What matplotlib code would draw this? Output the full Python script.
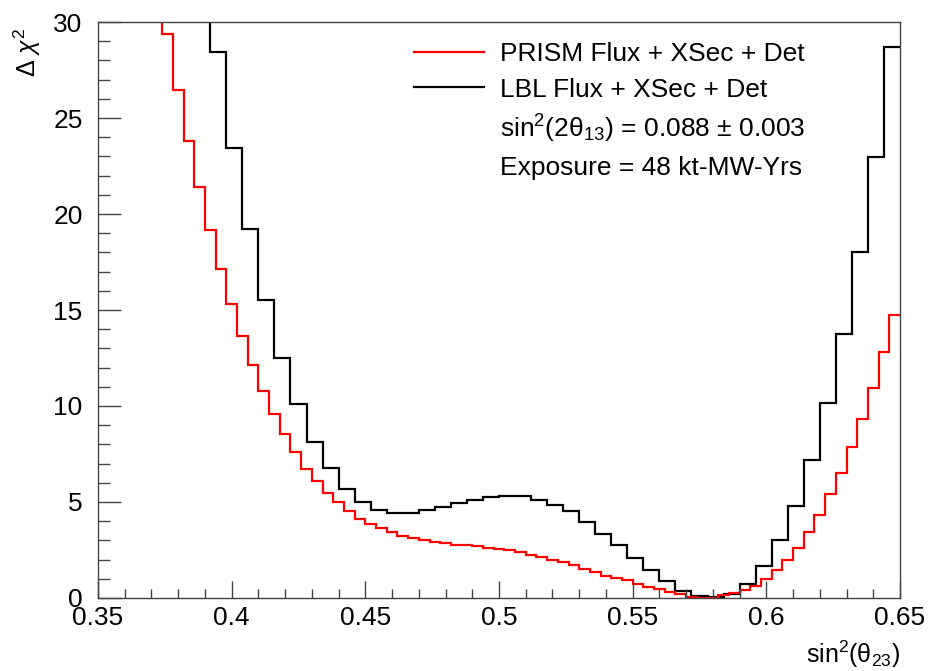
import numpy as np
import matplotlib
matplotlib.use("Agg")
import matplotlib.pyplot as plt
from matplotlib.lines import Line2D

# Delta chi^2 scan in sin^2(theta_23), binned histograms (ROOT style)

x_min, x_max = 0.35, 0.65
n_bins_lbl = 50
n_bins_prism = 75

# LBL Flux + XSec + Det (black), 50 bins of 0.006
lbl_chi2 = [
    58.0, 51.0, 45.0, 40.0, 36.0, 33.0, 31.5, 28.45, 23.45, 19.2,
    15.5, 12.5, 10.1, 8.15, 6.75, 5.7, 5.0, 4.6, 4.42, 4.42,
    4.56, 4.74, 4.94, 5.12, 5.26, 5.33, 5.33, 5.12, 4.86, 4.51,
    3.94, 3.33, 2.77, 2.08, 1.45, 0.86, 0.35, 0.08, 0.03, 0.21,
    0.71, 1.66, 3.0, 4.77, 7.2, 10.15, 13.76, 18.01, 22.99, 28.68,
]

# PRISM Flux + XSec + Det (red), 75 bins of 0.004
prism_chi2 = [
    52.0, 46.0, 41.0, 37.0, 34.0, 31.5, 29.36, 26.46, 23.82, 21.4,
    19.17, 17.13, 15.3, 13.62, 12.11, 10.79, 9.58, 8.54, 7.6, 6.73,
    6.11, 5.47, 5.0, 4.54, 4.13, 3.87, 3.62, 3.42, 3.24, 3.12,
    3.0, 2.91, 2.84, 2.78, 2.74, 2.69, 2.62, 2.55, 2.48, 2.37,
    2.25, 2.11, 1.99, 1.85, 1.70, 1.51, 1.33, 1.16, 1.04, 0.92,
    0.74, 0.59, 0.45, 0.29, 0.19, 0.05, 0.0, 0.01, 0.13, 0.26,
    0.43, 0.65, 0.99, 1.47, 1.99, 2.63, 3.43, 4.34, 5.41, 6.51,
    7.89, 9.33, 10.93, 12.8, 14.75,
]

legend_labels = [
    "PRISM Flux + XSec + Det",
    "LBL Flux + XSec + Det",
    "sin$^{2}$(2θ$_{13}$) = 0.088 $\\pm$ 0.003",
    "Exposure = 48 kt-MW-Yrs",
]

plt.rcParams["font.family"] = ["Liberation Sans", "DejaVu Sans"]
plt.rcParams["mathtext.fontset"] = "custom"
plt.rcParams["mathtext.rm"] = "Liberation Sans"
plt.rcParams["mathtext.it"] = "Liberation Sans:italic"
plt.rcParams["mathtext.sf"] = "Liberation Sans"

fig = plt.figure(figsize=(9.29, 6.71), dpi=100)
ax = fig.add_axes([0.1055, 0.1088, 0.8633, 0.8584])

edges_lbl = np.linspace(x_min, x_max, n_bins_lbl + 1)
edges_prism = np.linspace(x_min, x_max, n_bins_prism + 1)

ax.stairs(lbl_chi2, edges_lbl, baseline=None, color="black", lw=1.6)
ax.stairs(prism_chi2, edges_prism, baseline=None, color="red", lw=1.6)

ax.set_xlim(x_min, x_max)
ax.set_ylim(0, 30)

ax.set_xticks(np.arange(0.35, 0.651, 0.05))
ax.set_xticks(np.arange(0.35, 0.651, 0.01), minor=True)
ax.set_yticks(np.arange(0, 31, 5))
ax.set_yticks(np.arange(0, 31, 1), minor=True)
ax.set_xticklabels(["0.35", "0.4", "0.45", "0.5", "0.55", "0.6", "0.65"])

axis_color = "#444444"
for s in ax.spines.values():
    s.set_color(axis_color)
    s.set_linewidth(1.0)

ax.tick_params(axis="x", which="major", direction="in", length=12.5, width=1,
               color=axis_color, labelsize=19, pad=6)
ax.tick_params(axis="x", which="minor", direction="in", length=6.2, width=1,
               color=axis_color)
ax.tick_params(axis="y", which="major", direction="in", length=16.5, width=1,
               color=axis_color, labelsize=19, pad=11)
ax.tick_params(axis="y", which="minor", direction="in", length=8.3, width=1,
               color=axis_color)

ax.set_xlabel("sin$^{2}$(θ$_{23}$)", fontsize=18, loc="right")
ax.xaxis.set_label_coords(1.0, -0.07)
ax.set_ylabel("$\\Delta$ $\\chi^{2}$", fontsize=18, loc="top")
ax.yaxis.set_label_coords(-0.068, 0.99)

handles = [
    Line2D([], [], color="red", lw=1.6),
    Line2D([], [], color="black", lw=1.6),
    Line2D([], [], linestyle="none"),
    Line2D([], [], linestyle="none"),
]
ax.legend(handles, legend_labels, loc="upper left", bbox_to_anchor=(0.371, 0.997),
          frameon=False, fontsize=19, handlelength=2.65, handletextpad=0.6,
          labelspacing=0.43, borderpad=0.2)

fig.savefig("out.png", dpi=100)
